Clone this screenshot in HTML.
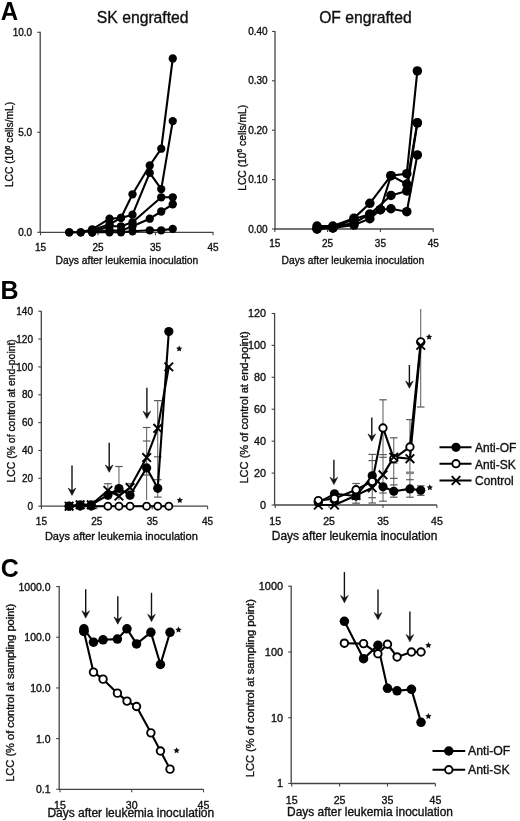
<!DOCTYPE html><html><head><meta charset="utf-8"><style>html,body{margin:0;padding:0;background:#fff;width:520px;height:821px;overflow:hidden}svg{display:block;filter:grayscale(1)}svg text{font-family:"Liberation Sans",sans-serif}</style></head><body><svg width="520" height="821" viewBox="0 0 520 821" >
<rect width="520" height="821" fill="#fff"/>
<text x="0.7" y="19.7" font-size="25.8" text-anchor="start" font-weight="bold" fill="#000"  textLength="17.4" lengthAdjust="spacingAndGlyphs">A</text>
<text x="0.5" y="299" font-size="25" text-anchor="start" font-weight="bold" fill="#000"  >B</text>
<text x="0.8" y="576.6" font-size="25" text-anchor="start" font-weight="bold" fill="#000"  >C</text>
<line x1="40.2" y1="31.8" x2="40.2" y2="232.8" stroke="#444" stroke-width="1.3"/>
<line x1="37.2" y1="32.3" x2="40.2" y2="32.3" stroke="#444" stroke-width="1.1"/>
<text x="32.2" y="35.5" font-size="10" text-anchor="end" font-weight="normal" fill="#111" stroke="#111" stroke-width="0.35" >10.0</text>
<line x1="37.2" y1="132.3" x2="40.2" y2="132.3" stroke="#444" stroke-width="1.1"/>
<text x="32.2" y="135.5" font-size="10" text-anchor="end" font-weight="normal" fill="#111" stroke="#111" stroke-width="0.35" >5.0</text>
<line x1="37.2" y1="232.3" x2="40.2" y2="232.3" stroke="#444" stroke-width="1.1"/>
<text x="32.2" y="235.5" font-size="10" text-anchor="end" font-weight="normal" fill="#111" stroke="#111" stroke-width="0.35" >0.0</text>
<line x1="40.2" y1="232.3" x2="213.5" y2="232.3" stroke="#444" stroke-width="1.3"/>
<line x1="40.5" y1="232.3" x2="40.5" y2="235.3" stroke="#444" stroke-width="1.1"/>
<text x="40.5" y="250.8" font-size="10" text-anchor="middle" font-weight="normal" fill="#111" stroke="#111" stroke-width="0.35" >15</text>
<line x1="98" y1="232.3" x2="98" y2="235.3" stroke="#444" stroke-width="1.1"/>
<text x="98" y="250.8" font-size="10" text-anchor="middle" font-weight="normal" fill="#111" stroke="#111" stroke-width="0.35" >25</text>
<line x1="155.5" y1="232.3" x2="155.5" y2="235.3" stroke="#444" stroke-width="1.1"/>
<text x="155.5" y="250.8" font-size="10" text-anchor="middle" font-weight="normal" fill="#111" stroke="#111" stroke-width="0.35" >35</text>
<line x1="213" y1="232.3" x2="213" y2="235.3" stroke="#444" stroke-width="1.1"/>
<text x="213" y="250.8" font-size="10" text-anchor="middle" font-weight="normal" fill="#111" stroke="#111" stroke-width="0.35" >45</text>
<text x="142.7" y="22.6" font-size="15.74" text-anchor="middle" font-weight="normal" fill="#111" stroke="#111" stroke-width="0.35" >SK engrafted</text>
<text x="126.95" y="264.2" font-size="10.28" text-anchor="middle" font-weight="normal" fill="#111" stroke="#111" stroke-width="0.35" >Days after leukemia inoculation</text>
<text transform="translate(13,144.5) rotate(-90)" x="0" y="0" font-size="10.2" text-anchor="middle" fill="#111" stroke="#111" stroke-width="0.35">LCC (10<tspan dy="-3.5" font-size="6.5">6</tspan><tspan dy="3.5"> cells/mL)</tspan></text>
<polyline points="69.25,232.3 80.75,232.3 92.25,229.3 109.5,218.7 121,217.9 132.5,194.3 149.75,165.5 161.25,148.7 172.75,58.5" fill="none" stroke="#000" stroke-width="2.1" stroke-linejoin="round"/>
<polyline points="69.25,232.3 80.75,232.3 92.25,230.3 109.5,224.3 121,217.9 132.5,214.7 149.75,172.9 161.25,189.1 172.75,121.1" fill="none" stroke="#000" stroke-width="2.1" stroke-linejoin="round"/>
<polyline points="92.25,232.3 109.5,226.3 121,226.3 132.5,222.3 161.25,197.3 172.75,197.3" fill="none" stroke="#000" stroke-width="2.1" stroke-linejoin="round"/>
<polyline points="92.25,232.3 109.5,230.3 121,230.7 132.5,226.3 149.75,218.7 161.25,211.5 172.75,204.3" fill="none" stroke="#000" stroke-width="2.1" stroke-linejoin="round"/>
<polyline points="92.25,232.3 109.5,232.3 121,232.3 132.5,231.3 149.75,230.3 161.25,230.3 172.75,228.9" fill="none" stroke="#000" stroke-width="2.1" stroke-linejoin="round"/>
<circle cx="69.25" cy="232.3" r="4.15" fill="#000"/>
<circle cx="80.75" cy="232.3" r="4.15" fill="#000"/>
<circle cx="92.25" cy="229.3" r="4.15" fill="#000"/>
<circle cx="109.5" cy="218.7" r="4.15" fill="#000"/>
<circle cx="121" cy="217.9" r="4.15" fill="#000"/>
<circle cx="132.5" cy="194.3" r="4.15" fill="#000"/>
<circle cx="149.75" cy="165.5" r="4.15" fill="#000"/>
<circle cx="161.25" cy="148.7" r="4.15" fill="#000"/>
<circle cx="172.75" cy="58.5" r="4.15" fill="#000"/>
<circle cx="69.25" cy="232.3" r="4.15" fill="#000"/>
<circle cx="80.75" cy="232.3" r="4.15" fill="#000"/>
<circle cx="92.25" cy="230.3" r="4.15" fill="#000"/>
<circle cx="109.5" cy="224.3" r="4.15" fill="#000"/>
<circle cx="121" cy="217.9" r="4.15" fill="#000"/>
<circle cx="132.5" cy="214.7" r="4.15" fill="#000"/>
<circle cx="149.75" cy="172.9" r="4.15" fill="#000"/>
<circle cx="161.25" cy="189.1" r="4.15" fill="#000"/>
<circle cx="172.75" cy="121.1" r="4.15" fill="#000"/>
<circle cx="92.25" cy="232.3" r="4.15" fill="#000"/>
<circle cx="109.5" cy="226.3" r="4.15" fill="#000"/>
<circle cx="121" cy="226.3" r="4.15" fill="#000"/>
<circle cx="132.5" cy="222.3" r="4.15" fill="#000"/>
<circle cx="161.25" cy="197.3" r="4.15" fill="#000"/>
<circle cx="172.75" cy="197.3" r="4.15" fill="#000"/>
<circle cx="92.25" cy="232.3" r="4.15" fill="#000"/>
<circle cx="109.5" cy="230.3" r="4.15" fill="#000"/>
<circle cx="121" cy="230.7" r="4.15" fill="#000"/>
<circle cx="132.5" cy="226.3" r="4.15" fill="#000"/>
<circle cx="149.75" cy="218.7" r="4.15" fill="#000"/>
<circle cx="161.25" cy="211.5" r="4.15" fill="#000"/>
<circle cx="172.75" cy="204.3" r="4.15" fill="#000"/>
<circle cx="92.25" cy="232.3" r="4.15" fill="#000"/>
<circle cx="109.5" cy="232.3" r="4.15" fill="#000"/>
<circle cx="121" cy="232.3" r="4.15" fill="#000"/>
<circle cx="132.5" cy="231.3" r="4.15" fill="#000"/>
<circle cx="149.75" cy="230.3" r="4.15" fill="#000"/>
<circle cx="161.25" cy="230.3" r="4.15" fill="#000"/>
<circle cx="172.75" cy="228.9" r="4.15" fill="#000"/>
<line x1="275" y1="31" x2="275" y2="229.5" stroke="#444" stroke-width="1.3"/>
<line x1="272" y1="31.4" x2="275" y2="31.4" stroke="#444" stroke-width="1.1"/>
<text x="267.7" y="35" font-size="10" text-anchor="end" font-weight="normal" fill="#111" stroke="#111" stroke-width="0.35" >0.40</text>
<line x1="272" y1="80.8" x2="275" y2="80.8" stroke="#444" stroke-width="1.1"/>
<text x="267.7" y="84.4" font-size="10" text-anchor="end" font-weight="normal" fill="#111" stroke="#111" stroke-width="0.35" >0.30</text>
<line x1="272" y1="130.2" x2="275" y2="130.2" stroke="#444" stroke-width="1.1"/>
<text x="267.7" y="133.8" font-size="10" text-anchor="end" font-weight="normal" fill="#111" stroke="#111" stroke-width="0.35" >0.20</text>
<line x1="272" y1="179.6" x2="275" y2="179.6" stroke="#444" stroke-width="1.1"/>
<text x="267.7" y="183.2" font-size="10" text-anchor="end" font-weight="normal" fill="#111" stroke="#111" stroke-width="0.35" >0.10</text>
<line x1="272" y1="229" x2="275" y2="229" stroke="#444" stroke-width="1.1"/>
<text x="267.7" y="232.6" font-size="10" text-anchor="end" font-weight="normal" fill="#111" stroke="#111" stroke-width="0.35" >0.00</text>
<line x1="275" y1="229" x2="433.6" y2="229" stroke="#444" stroke-width="1.3"/>
<line x1="274.8" y1="229" x2="274.8" y2="232" stroke="#444" stroke-width="1.1"/>
<text x="274.8" y="247" font-size="10" text-anchor="middle" font-weight="normal" fill="#111" stroke="#111" stroke-width="0.35" >15</text>
<line x1="327.6" y1="229" x2="327.6" y2="232" stroke="#444" stroke-width="1.1"/>
<text x="327.6" y="247" font-size="10" text-anchor="middle" font-weight="normal" fill="#111" stroke="#111" stroke-width="0.35" >25</text>
<line x1="380.4" y1="229" x2="380.4" y2="232" stroke="#444" stroke-width="1.1"/>
<text x="380.4" y="247" font-size="10" text-anchor="middle" font-weight="normal" fill="#111" stroke="#111" stroke-width="0.35" >35</text>
<line x1="433.2" y1="229" x2="433.2" y2="232" stroke="#444" stroke-width="1.1"/>
<text x="433.2" y="247" font-size="10" text-anchor="middle" font-weight="normal" fill="#111" stroke="#111" stroke-width="0.35" >45</text>
<text x="365.4" y="22.5" font-size="15.7" text-anchor="middle" font-weight="normal" fill="#111" stroke="#111" stroke-width="0.35" >OF engrafted</text>
<text x="352.9" y="264" font-size="10.27" text-anchor="middle" font-weight="normal" fill="#111" stroke="#111" stroke-width="0.35" >Days after leukemia inoculation</text>
<text transform="translate(245.6,147.8) rotate(-90)" x="0" y="0" font-size="10.3" text-anchor="middle" fill="#111" stroke="#111" stroke-width="0.35">LCC (10<tspan dy="-3.5" font-size="6.5">6</tspan><tspan dy="3.5"> cells/mL)</tspan></text>
<polyline points="317.04,226.04 332.88,226.04 354,218.13 369.84,203.31 390.96,175.65 406.8,173.67 417.36,70.92" fill="none" stroke="#000" stroke-width="2.1" stroke-linejoin="round"/>
<polyline points="317.04,229 332.88,227.02 354,223.07 369.84,214.18 380.4,209.73 390.96,175.65 406.8,184.05 417.36,122.79" fill="none" stroke="#000" stroke-width="2.1" stroke-linejoin="round"/>
<polyline points="317.04,228.01 332.88,228.01 354,219.12 369.84,214.18 390.96,195.41 406.8,190.96 417.36,122.79" fill="none" stroke="#000" stroke-width="2.1" stroke-linejoin="round"/>
<polyline points="317.04,229 332.88,228.01 354,225.05 369.84,218.63 380.4,209.73 390.96,208.75 406.8,211.71 417.36,154.9" fill="none" stroke="#000" stroke-width="2.1" stroke-linejoin="round"/>
<circle cx="317.04" cy="226.04" r="4.75" fill="#000"/>
<circle cx="332.88" cy="226.04" r="4.75" fill="#000"/>
<circle cx="354" cy="218.13" r="4.75" fill="#000"/>
<circle cx="369.84" cy="203.31" r="4.75" fill="#000"/>
<circle cx="390.96" cy="175.65" r="4.75" fill="#000"/>
<circle cx="406.8" cy="173.67" r="4.75" fill="#000"/>
<circle cx="417.36" cy="70.92" r="4.75" fill="#000"/>
<circle cx="317.04" cy="229" r="4.75" fill="#000"/>
<circle cx="332.88" cy="227.02" r="4.75" fill="#000"/>
<circle cx="354" cy="223.07" r="4.75" fill="#000"/>
<circle cx="369.84" cy="214.18" r="4.75" fill="#000"/>
<circle cx="380.4" cy="209.73" r="4.75" fill="#000"/>
<circle cx="390.96" cy="175.65" r="4.75" fill="#000"/>
<circle cx="406.8" cy="184.05" r="4.75" fill="#000"/>
<circle cx="417.36" cy="122.79" r="4.75" fill="#000"/>
<circle cx="317.04" cy="228.01" r="4.75" fill="#000"/>
<circle cx="332.88" cy="228.01" r="4.75" fill="#000"/>
<circle cx="354" cy="219.12" r="4.75" fill="#000"/>
<circle cx="369.84" cy="214.18" r="4.75" fill="#000"/>
<circle cx="390.96" cy="195.41" r="4.75" fill="#000"/>
<circle cx="406.8" cy="190.96" r="4.75" fill="#000"/>
<circle cx="417.36" cy="122.79" r="4.75" fill="#000"/>
<circle cx="317.04" cy="229" r="4.75" fill="#000"/>
<circle cx="332.88" cy="228.01" r="4.75" fill="#000"/>
<circle cx="354" cy="225.05" r="4.75" fill="#000"/>
<circle cx="369.84" cy="218.63" r="4.75" fill="#000"/>
<circle cx="380.4" cy="209.73" r="4.75" fill="#000"/>
<circle cx="390.96" cy="208.75" r="4.75" fill="#000"/>
<circle cx="406.8" cy="211.71" r="4.75" fill="#000"/>
<circle cx="417.36" cy="154.9" r="4.75" fill="#000"/>
<line x1="41.3" y1="310.9" x2="41.3" y2="506.7" stroke="#444" stroke-width="1.3"/>
<line x1="38.3" y1="311.18" x2="41.3" y2="311.18" stroke="#444" stroke-width="1.1"/>
<text x="33" y="314.78" font-size="10" text-anchor="end" font-weight="normal" fill="#111" stroke="#111" stroke-width="0.35" >140</text>
<line x1="38.3" y1="339.04" x2="41.3" y2="339.04" stroke="#444" stroke-width="1.1"/>
<text x="33" y="342.64" font-size="10" text-anchor="end" font-weight="normal" fill="#111" stroke="#111" stroke-width="0.35" >120</text>
<line x1="38.3" y1="366.9" x2="41.3" y2="366.9" stroke="#444" stroke-width="1.1"/>
<text x="33" y="370.5" font-size="10" text-anchor="end" font-weight="normal" fill="#111" stroke="#111" stroke-width="0.35" >100</text>
<line x1="38.3" y1="394.76" x2="41.3" y2="394.76" stroke="#444" stroke-width="1.1"/>
<text x="33" y="398.36" font-size="10" text-anchor="end" font-weight="normal" fill="#111" stroke="#111" stroke-width="0.35" >80</text>
<line x1="38.3" y1="422.62" x2="41.3" y2="422.62" stroke="#444" stroke-width="1.1"/>
<text x="33" y="426.22" font-size="10" text-anchor="end" font-weight="normal" fill="#111" stroke="#111" stroke-width="0.35" >60</text>
<line x1="38.3" y1="450.48" x2="41.3" y2="450.48" stroke="#444" stroke-width="1.1"/>
<text x="33" y="454.08" font-size="10" text-anchor="end" font-weight="normal" fill="#111" stroke="#111" stroke-width="0.35" >40</text>
<line x1="38.3" y1="478.34" x2="41.3" y2="478.34" stroke="#444" stroke-width="1.1"/>
<text x="33" y="481.94" font-size="10" text-anchor="end" font-weight="normal" fill="#111" stroke="#111" stroke-width="0.35" >20</text>
<line x1="38.3" y1="506.2" x2="41.3" y2="506.2" stroke="#444" stroke-width="1.1"/>
<text x="33" y="509.8" font-size="10" text-anchor="end" font-weight="normal" fill="#111" stroke="#111" stroke-width="0.35" >0</text>
<line x1="41.3" y1="506.2" x2="207.7" y2="506.2" stroke="#444" stroke-width="1.3"/>
<line x1="41.4" y1="506.2" x2="41.4" y2="509.2" stroke="#444" stroke-width="1.1"/>
<text x="41.4" y="524.8" font-size="10" text-anchor="middle" font-weight="normal" fill="#111" stroke="#111" stroke-width="0.35" >15</text>
<line x1="96.8" y1="506.2" x2="96.8" y2="509.2" stroke="#444" stroke-width="1.1"/>
<text x="96.8" y="524.8" font-size="10" text-anchor="middle" font-weight="normal" fill="#111" stroke="#111" stroke-width="0.35" >25</text>
<line x1="152.2" y1="506.2" x2="152.2" y2="509.2" stroke="#444" stroke-width="1.1"/>
<text x="152.2" y="524.8" font-size="10" text-anchor="middle" font-weight="normal" fill="#111" stroke="#111" stroke-width="0.35" >35</text>
<line x1="207.6" y1="506.2" x2="207.6" y2="509.2" stroke="#444" stroke-width="1.1"/>
<text x="207.6" y="524.8" font-size="10" text-anchor="middle" font-weight="normal" fill="#111" stroke="#111" stroke-width="0.35" >45</text>
<text x="121.35" y="539.8" font-size="11.0" text-anchor="middle" font-weight="normal" fill="#111" stroke="#111" stroke-width="0.35" >Days after leukemia inoculation</text>
<text transform="translate(14.7,410.8) rotate(-90)" x="0" y="0" font-size="10.4" text-anchor="middle" fill="#111" stroke="#111" stroke-width="0.35">LCC (% of control at end-point)</text>
<line x1="107.88" y1="483.7" x2="107.88" y2="500" stroke="#5a5a5a" stroke-width="1"/>
<line x1="104.08" y1="483.7" x2="111.68" y2="483.7" stroke="#5a5a5a" stroke-width="1.2"/>
<line x1="118.96" y1="466.5" x2="118.96" y2="500" stroke="#5a5a5a" stroke-width="1"/>
<line x1="115.16" y1="466.5" x2="122.76" y2="466.5" stroke="#5a5a5a" stroke-width="1.2"/>
<line x1="130.04" y1="483.7" x2="130.04" y2="500" stroke="#5a5a5a" stroke-width="1"/>
<line x1="126.24" y1="483.7" x2="133.84" y2="483.7" stroke="#5a5a5a" stroke-width="1.2"/>
<line x1="146.66" y1="427.5" x2="146.66" y2="500" stroke="#5a5a5a" stroke-width="1"/>
<line x1="142.86" y1="427.5" x2="150.46" y2="427.5" stroke="#5a5a5a" stroke-width="1.2"/>
<line x1="142.86" y1="441" x2="150.46" y2="441" stroke="#5a5a5a" stroke-width="1.2"/>
<line x1="142.86" y1="475" x2="150.46" y2="475" stroke="#5a5a5a" stroke-width="1.2"/>
<line x1="157.74" y1="400.6" x2="157.74" y2="497.1" stroke="#5a5a5a" stroke-width="1"/>
<line x1="153.94" y1="400.6" x2="161.54" y2="400.6" stroke="#5a5a5a" stroke-width="1.2"/>
<line x1="153.94" y1="456.8" x2="161.54" y2="456.8" stroke="#5a5a5a" stroke-width="1.2"/>
<line x1="153.94" y1="479.7" x2="161.54" y2="479.7" stroke="#5a5a5a" stroke-width="1.2"/>
<line x1="153.94" y1="497.1" x2="161.54" y2="497.1" stroke="#5a5a5a" stroke-width="1.2"/>
<line x1="72" y1="465.4" x2="72" y2="491.4" stroke="#111" stroke-width="1.4"/>
<path d="M68.2,488.1L72,490.8L75.8,488.1L72,495.4Z" fill="#111" stroke="#111" stroke-width="0.6" stroke-linejoin="miter"/>
<line x1="109.2" y1="442.8" x2="109.2" y2="468.3" stroke="#111" stroke-width="1.4"/>
<path d="M105.4,465L109.2,467.7L113,465L109.2,472.3Z" fill="#111" stroke="#111" stroke-width="0.6" stroke-linejoin="miter"/>
<line x1="146.9" y1="387.7" x2="146.9" y2="414.5" stroke="#111" stroke-width="1.4"/>
<path d="M143.1,411.2L146.9,413.9L150.7,411.2L146.9,418.5Z" fill="#111" stroke="#111" stroke-width="0.6" stroke-linejoin="miter"/>
<polyline points="69.1,506.2 80.18,506.2 91.26,506.2 107.88,506.2 118.96,506.2 130.04,506.2 146.66,506.2 157.74,506.2 168.82,506.2" fill="none" stroke="#000" stroke-width="2.1" stroke-linejoin="round"/>
<polyline points="69.1,506.2 80.18,504.81 91.26,504.81 107.88,490.46 118.96,496.03 130.04,487.53 146.66,457.58 157.74,428.33 168.82,366.9" fill="none" stroke="#000" stroke-width="2.1" stroke-linejoin="round"/>
<polyline points="69.1,506.2 80.18,504.81 91.26,504.81 107.88,495.2 118.96,488.51 130.04,495.2 146.66,467.89 157.74,488.37 168.82,331.52" fill="none" stroke="#000" stroke-width="2.1" stroke-linejoin="round"/>
<circle cx="69.1" cy="506.2" r="3.55" fill="#fff" stroke="#000" stroke-width="1.8"/>
<circle cx="80.18" cy="506.2" r="3.55" fill="#fff" stroke="#000" stroke-width="1.8"/>
<circle cx="91.26" cy="506.2" r="3.55" fill="#fff" stroke="#000" stroke-width="1.8"/>
<circle cx="107.88" cy="506.2" r="3.55" fill="#fff" stroke="#000" stroke-width="1.8"/>
<circle cx="118.96" cy="506.2" r="3.55" fill="#fff" stroke="#000" stroke-width="1.8"/>
<circle cx="130.04" cy="506.2" r="3.55" fill="#fff" stroke="#000" stroke-width="1.8"/>
<circle cx="146.66" cy="506.2" r="3.55" fill="#fff" stroke="#000" stroke-width="1.8"/>
<circle cx="157.74" cy="506.2" r="3.55" fill="#fff" stroke="#000" stroke-width="1.8"/>
<circle cx="168.82" cy="506.2" r="3.55" fill="#fff" stroke="#000" stroke-width="1.8"/>
<path d="M64.8,501.9L73.4,510.5M73.4,501.9L64.8,510.5" stroke="#000" stroke-width="1.9" fill="none"/>
<path d="M75.88,500.51L84.48,509.11M84.48,500.51L75.88,509.11" stroke="#000" stroke-width="1.9" fill="none"/>
<path d="M86.96,500.51L95.56,509.11M95.56,500.51L86.96,509.11" stroke="#000" stroke-width="1.9" fill="none"/>
<path d="M103.58,486.16L112.18,494.76M112.18,486.16L103.58,494.76" stroke="#000" stroke-width="1.9" fill="none"/>
<path d="M114.66,491.73L123.26,500.33M123.26,491.73L114.66,500.33" stroke="#000" stroke-width="1.9" fill="none"/>
<path d="M125.74,483.23L134.34,491.83M134.34,483.23L125.74,491.83" stroke="#000" stroke-width="1.9" fill="none"/>
<path d="M142.36,453.28L150.96,461.88M150.96,453.28L142.36,461.88" stroke="#000" stroke-width="1.9" fill="none"/>
<path d="M153.44,424.03L162.04,432.63M162.04,424.03L153.44,432.63" stroke="#000" stroke-width="1.9" fill="none"/>
<path d="M164.52,362.6L173.12,371.2M173.12,362.6L164.52,371.2" stroke="#000" stroke-width="1.9" fill="none"/>
<circle cx="69.1" cy="506.2" r="4.6" fill="#000"/>
<circle cx="80.18" cy="504.81" r="4.6" fill="#000"/>
<circle cx="91.26" cy="504.81" r="4.6" fill="#000"/>
<circle cx="107.88" cy="495.2" r="4.6" fill="#000"/>
<circle cx="118.96" cy="488.51" r="4.6" fill="#000"/>
<circle cx="130.04" cy="495.2" r="4.6" fill="#000"/>
<circle cx="146.66" cy="467.89" r="4.6" fill="#000"/>
<circle cx="157.74" cy="488.37" r="4.6" fill="#000"/>
<circle cx="168.82" cy="331.52" r="4.6" fill="#000"/>
<polygon points="179.2,345.5 180.17,347.47 182.34,347.78 180.77,349.31 181.14,351.47 179.2,350.45 177.26,351.47 177.63,349.31 176.06,347.78 178.23,347.47" fill="#111"/>
<polygon points="179.8,497 180.77,498.97 182.94,499.28 181.37,500.81 181.74,502.97 179.8,501.95 177.86,502.97 178.23,500.81 176.66,499.28 178.83,498.97" fill="#111"/>
<line x1="274.6" y1="313" x2="274.6" y2="505.5" stroke="#444" stroke-width="1.3"/>
<line x1="271.6" y1="313.48" x2="274.6" y2="313.48" stroke="#444" stroke-width="1.1"/>
<text x="265.9" y="317.18" font-size="10.8" text-anchor="end" font-weight="normal" fill="#111" stroke="#111" stroke-width="0.35" >120</text>
<line x1="271.6" y1="345.4" x2="274.6" y2="345.4" stroke="#444" stroke-width="1.1"/>
<text x="265.9" y="349.1" font-size="10.8" text-anchor="end" font-weight="normal" fill="#111" stroke="#111" stroke-width="0.35" >100</text>
<line x1="271.6" y1="377.32" x2="274.6" y2="377.32" stroke="#444" stroke-width="1.1"/>
<text x="265.9" y="381.02" font-size="10.8" text-anchor="end" font-weight="normal" fill="#111" stroke="#111" stroke-width="0.35" >80</text>
<line x1="271.6" y1="409.24" x2="274.6" y2="409.24" stroke="#444" stroke-width="1.1"/>
<text x="265.9" y="412.94" font-size="10.8" text-anchor="end" font-weight="normal" fill="#111" stroke="#111" stroke-width="0.35" >60</text>
<line x1="271.6" y1="441.16" x2="274.6" y2="441.16" stroke="#444" stroke-width="1.1"/>
<text x="265.9" y="444.86" font-size="10.8" text-anchor="end" font-weight="normal" fill="#111" stroke="#111" stroke-width="0.35" >40</text>
<line x1="271.6" y1="473.08" x2="274.6" y2="473.08" stroke="#444" stroke-width="1.1"/>
<text x="265.9" y="476.78" font-size="10.8" text-anchor="end" font-weight="normal" fill="#111" stroke="#111" stroke-width="0.35" >20</text>
<line x1="271.6" y1="505" x2="274.6" y2="505" stroke="#444" stroke-width="1.1"/>
<text x="265.9" y="508.7" font-size="10.8" text-anchor="end" font-weight="normal" fill="#111" stroke="#111" stroke-width="0.35" >0</text>
<line x1="274.6" y1="505" x2="436.9" y2="505" stroke="#444" stroke-width="1.3"/>
<line x1="275.2" y1="505" x2="275.2" y2="508" stroke="#444" stroke-width="1.1"/>
<text x="275.2" y="524.6" font-size="10.5" text-anchor="middle" font-weight="normal" fill="#111" stroke="#111" stroke-width="0.35" >15</text>
<line x1="329.1" y1="505" x2="329.1" y2="508" stroke="#444" stroke-width="1.1"/>
<text x="329.1" y="524.6" font-size="10.5" text-anchor="middle" font-weight="normal" fill="#111" stroke="#111" stroke-width="0.35" >25</text>
<line x1="383" y1="505" x2="383" y2="508" stroke="#444" stroke-width="1.1"/>
<text x="383" y="524.6" font-size="10.5" text-anchor="middle" font-weight="normal" fill="#111" stroke="#111" stroke-width="0.35" >35</text>
<line x1="436.9" y1="505" x2="436.9" y2="508" stroke="#444" stroke-width="1.1"/>
<text x="436.9" y="524.6" font-size="10.5" text-anchor="middle" font-weight="normal" fill="#111" stroke="#111" stroke-width="0.35" >45</text>
<text x="354.6" y="539.7" font-size="11.92" text-anchor="middle" font-weight="normal" fill="#111" stroke="#111" stroke-width="0.35" >Days after leukemia inoculation</text>
<text transform="translate(247.8,407.4) rotate(-90)" x="0" y="0" font-size="11.05" text-anchor="middle" fill="#111" stroke="#111" stroke-width="0.35">LCC (% of control at end-point)</text>
<line x1="356.05" y1="483.5" x2="356.05" y2="503.2" stroke="#5a5a5a" stroke-width="1"/>
<line x1="352.25" y1="483.5" x2="359.85" y2="483.5" stroke="#5a5a5a" stroke-width="1.2"/>
<line x1="352.25" y1="503.2" x2="359.85" y2="503.2" stroke="#5a5a5a" stroke-width="1.2"/>
<line x1="372.22" y1="454.4" x2="372.22" y2="503" stroke="#5a5a5a" stroke-width="1"/>
<line x1="368.42" y1="454.4" x2="376.02" y2="454.4" stroke="#5a5a5a" stroke-width="1.2"/>
<line x1="368.42" y1="460.6" x2="376.02" y2="460.6" stroke="#5a5a5a" stroke-width="1.2"/>
<line x1="368.42" y1="497.7" x2="376.02" y2="497.7" stroke="#5a5a5a" stroke-width="1.2"/>
<line x1="368.42" y1="503" x2="376.02" y2="503" stroke="#5a5a5a" stroke-width="1.2"/>
<line x1="383" y1="399.8" x2="383" y2="501.2" stroke="#5a5a5a" stroke-width="1"/>
<line x1="379.2" y1="399.8" x2="386.8" y2="399.8" stroke="#5a5a5a" stroke-width="1.2"/>
<line x1="379.2" y1="454.6" x2="386.8" y2="454.6" stroke="#5a5a5a" stroke-width="1.2"/>
<line x1="379.2" y1="457.3" x2="386.8" y2="457.3" stroke="#5a5a5a" stroke-width="1.2"/>
<line x1="379.2" y1="493" x2="386.8" y2="493" stroke="#5a5a5a" stroke-width="1.2"/>
<line x1="379.2" y1="501.2" x2="386.8" y2="501.2" stroke="#5a5a5a" stroke-width="1.2"/>
<line x1="393.78" y1="437.8" x2="393.78" y2="497.2" stroke="#5a5a5a" stroke-width="1"/>
<line x1="389.98" y1="437.8" x2="397.58" y2="437.8" stroke="#5a5a5a" stroke-width="1.2"/>
<line x1="389.98" y1="463" x2="397.58" y2="463" stroke="#5a5a5a" stroke-width="1.2"/>
<line x1="389.98" y1="478.4" x2="397.58" y2="478.4" stroke="#5a5a5a" stroke-width="1.2"/>
<line x1="389.98" y1="484.9" x2="397.58" y2="484.9" stroke="#5a5a5a" stroke-width="1.2"/>
<line x1="389.98" y1="497.2" x2="397.58" y2="497.2" stroke="#5a5a5a" stroke-width="1.2"/>
<line x1="409.95" y1="419.6" x2="409.95" y2="497.2" stroke="#5a5a5a" stroke-width="1"/>
<line x1="406.15" y1="419.6" x2="413.75" y2="419.6" stroke="#5a5a5a" stroke-width="1.2"/>
<line x1="406.15" y1="472.8" x2="413.75" y2="472.8" stroke="#5a5a5a" stroke-width="1.2"/>
<line x1="406.15" y1="479.7" x2="413.75" y2="479.7" stroke="#5a5a5a" stroke-width="1.2"/>
<line x1="406.15" y1="497.2" x2="413.75" y2="497.2" stroke="#5a5a5a" stroke-width="1.2"/>
<line x1="405.95" y1="472.8" x2="413.95" y2="472.8" stroke="#888" stroke-width="2.6"/>
<line x1="420.73" y1="309" x2="420.73" y2="407" stroke="#5a5a5a" stroke-width="1"/>
<line x1="416.93" y1="407" x2="424.53" y2="407" stroke="#5a5a5a" stroke-width="1.2"/>
<line x1="420.73" y1="485.8" x2="420.73" y2="495.3" stroke="#5a5a5a" stroke-width="1"/>
<line x1="416.93" y1="485.8" x2="424.53" y2="485.8" stroke="#5a5a5a" stroke-width="1.2"/>
<line x1="416.93" y1="495.3" x2="424.53" y2="495.3" stroke="#5a5a5a" stroke-width="1.2"/>
<line x1="333.9" y1="459.8" x2="333.9" y2="480.6" stroke="#111" stroke-width="1.4"/>
<path d="M330.1,477.3L333.9,480L337.7,477.3L333.9,484.6Z" fill="#111" stroke="#111" stroke-width="0.6" stroke-linejoin="miter"/>
<line x1="371.8" y1="417.5" x2="371.8" y2="437.2" stroke="#111" stroke-width="1.4"/>
<path d="M368,433.9L371.8,436.6L375.6,433.9L371.8,441.2Z" fill="#111" stroke="#111" stroke-width="0.6" stroke-linejoin="miter"/>
<line x1="409.4" y1="365" x2="409.4" y2="384.3" stroke="#111" stroke-width="1.4"/>
<path d="M405.6,381L409.4,383.7L413.2,381L409.4,388.3Z" fill="#111" stroke="#111" stroke-width="0.6" stroke-linejoin="miter"/>
<polyline points="318.32,502.61 334.49,493.83 356.05,496.06 372.22,475.79 383,486.81 393.78,491.27 409.95,488.88 420.73,490.32" fill="none" stroke="#000" stroke-width="2.1" stroke-linejoin="round"/>
<polyline points="318.32,505 334.49,505 356.05,495.42 372.22,487.76 383,474.84 393.78,457.12 409.95,458.72 420.73,345.4" fill="none" stroke="#000" stroke-width="2.1" stroke-linejoin="round"/>
<polyline points="318.32,500.53 334.49,498.62 356.05,489.68 372.22,481.54 383,427.91 393.78,458.72 409.95,446.91 420.73,341.89" fill="none" stroke="#000" stroke-width="2.1" stroke-linejoin="round"/>
<circle cx="318.32" cy="502.61" r="4.6" fill="#000"/>
<circle cx="334.49" cy="493.83" r="4.6" fill="#000"/>
<circle cx="356.05" cy="496.06" r="4.6" fill="#000"/>
<circle cx="372.22" cy="475.79" r="4.6" fill="#000"/>
<circle cx="383" cy="486.81" r="4.6" fill="#000"/>
<circle cx="393.78" cy="491.27" r="4.6" fill="#000"/>
<circle cx="409.95" cy="488.88" r="4.6" fill="#000"/>
<circle cx="420.73" cy="490.32" r="4.6" fill="#000"/>
<circle cx="318.32" cy="500.53" r="3.7" fill="#fff" stroke="#000" stroke-width="1.85"/>
<circle cx="334.49" cy="498.62" r="3.7" fill="#fff" stroke="#000" stroke-width="1.85"/>
<circle cx="356.05" cy="489.68" r="3.7" fill="#fff" stroke="#000" stroke-width="1.85"/>
<circle cx="372.22" cy="481.54" r="3.7" fill="#fff" stroke="#000" stroke-width="1.85"/>
<circle cx="383" cy="427.91" r="3.7" fill="#fff" stroke="#000" stroke-width="1.85"/>
<circle cx="393.78" cy="458.72" r="3.7" fill="#fff" stroke="#000" stroke-width="1.85"/>
<circle cx="409.95" cy="446.91" r="3.7" fill="#fff" stroke="#000" stroke-width="1.85"/>
<circle cx="420.73" cy="341.89" r="3.7" fill="#fff" stroke="#000" stroke-width="1.85"/>
<path d="M314.02,500.7L322.62,509.3M322.62,500.7L314.02,509.3" stroke="#000" stroke-width="1.9" fill="none"/>
<path d="M330.19,500.7L338.79,509.3M338.79,500.7L330.19,509.3" stroke="#000" stroke-width="1.9" fill="none"/>
<path d="M351.75,491.12L360.35,499.72M360.35,491.12L351.75,499.72" stroke="#000" stroke-width="1.9" fill="none"/>
<path d="M367.92,483.46L376.52,492.06M376.52,483.46L367.92,492.06" stroke="#000" stroke-width="1.9" fill="none"/>
<path d="M378.7,470.54L387.3,479.14M387.3,470.54L378.7,479.14" stroke="#000" stroke-width="1.9" fill="none"/>
<path d="M389.48,452.82L398.08,461.42M398.08,452.82L389.48,461.42" stroke="#000" stroke-width="1.9" fill="none"/>
<path d="M405.65,454.42L414.25,463.02M414.25,454.42L405.65,463.02" stroke="#000" stroke-width="1.9" fill="none"/>
<path d="M416.43,341.1L425.03,349.7M425.03,341.1L416.43,349.7" stroke="#000" stroke-width="1.9" fill="none"/>
<polygon points="429.8,484.2 430.77,486.17 432.94,486.48 431.37,488.01 431.74,490.17 429.8,489.15 427.86,490.17 428.23,488.01 426.66,486.48 428.83,486.17" fill="#111"/>
<polygon points="429.1,333.8 430.07,335.77 432.24,336.08 430.67,337.61 431.04,339.77 429.1,338.75 427.16,339.77 427.53,337.61 425.96,336.08 428.13,335.77" fill="#111"/>
<line x1="439.5" y1="447.3" x2="471.5" y2="447.3" stroke="#000" stroke-width="2.1"/>
<circle cx="456" cy="447.3" r="4.6" fill="#000"/>
<text x="475" y="452.1" font-size="12" text-anchor="start" font-weight="normal" fill="#111" stroke="#111" stroke-width="0.35" >Anti-OF</text>
<line x1="439.5" y1="463.7" x2="471.5" y2="463.7" stroke="#000" stroke-width="2.1"/>
<circle cx="456" cy="463.7" r="3.7" fill="#fff" stroke="#000" stroke-width="1.85"/>
<text x="475" y="468.5" font-size="12" text-anchor="start" font-weight="normal" fill="#111" stroke="#111" stroke-width="0.35" >Anti-SK</text>
<line x1="439.5" y1="480.5" x2="471.5" y2="480.5" stroke="#000" stroke-width="2.1"/>
<path d="M451.7,476.2L460.3,484.8M460.3,476.2L451.7,484.8" stroke="#000" stroke-width="1.9" fill="none"/>
<text x="475" y="485.3" font-size="12" text-anchor="start" font-weight="normal" fill="#111" stroke="#111" stroke-width="0.35" >Control</text>
<line x1="59.2" y1="586.1" x2="59.2" y2="789.8" stroke="#444" stroke-width="1.3"/>
<line x1="56.2" y1="586.58" x2="59.2" y2="586.58" stroke="#444" stroke-width="1.1"/>
<text x="50.6" y="590.58" font-size="10.5" text-anchor="end" font-weight="normal" fill="#111" stroke="#111" stroke-width="0.35" >1000.0</text>
<line x1="56.2" y1="637.26" x2="59.2" y2="637.26" stroke="#444" stroke-width="1.1"/>
<text x="50.6" y="641.26" font-size="10.5" text-anchor="end" font-weight="normal" fill="#111" stroke="#111" stroke-width="0.35" >100.0</text>
<line x1="56.2" y1="687.94" x2="59.2" y2="687.94" stroke="#444" stroke-width="1.1"/>
<text x="50.6" y="691.94" font-size="10.5" text-anchor="end" font-weight="normal" fill="#111" stroke="#111" stroke-width="0.35" >10.0</text>
<line x1="56.2" y1="738.62" x2="59.2" y2="738.62" stroke="#444" stroke-width="1.1"/>
<text x="50.6" y="742.62" font-size="10.5" text-anchor="end" font-weight="normal" fill="#111" stroke="#111" stroke-width="0.35" >1.0</text>
<line x1="56.2" y1="789.3" x2="59.2" y2="789.3" stroke="#444" stroke-width="1.1"/>
<text x="50.6" y="793.3" font-size="10.5" text-anchor="end" font-weight="normal" fill="#111" stroke="#111" stroke-width="0.35" >0.1</text>
<line x1="59.2" y1="789.3" x2="203.5" y2="789.3" stroke="#444" stroke-width="1.3"/>
<line x1="60" y1="789.3" x2="60" y2="792.3" stroke="#444" stroke-width="1.1"/>
<text x="60" y="809.2" font-size="10.6" text-anchor="middle" font-weight="normal" fill="#111" stroke="#111" stroke-width="0.35" >15</text>
<line x1="131.75" y1="789.3" x2="131.75" y2="792.3" stroke="#444" stroke-width="1.1"/>
<text x="131.75" y="809.2" font-size="10.6" text-anchor="middle" font-weight="normal" fill="#111" stroke="#111" stroke-width="0.35" >30</text>
<line x1="203.5" y1="789.3" x2="203.5" y2="792.3" stroke="#444" stroke-width="1.1"/>
<text x="203.5" y="809.2" font-size="10.6" text-anchor="middle" font-weight="normal" fill="#111" stroke="#111" stroke-width="0.35" >45</text>
<text x="130.8" y="817.3" font-size="12.0" text-anchor="middle" font-weight="normal" fill="#111" stroke="#111" stroke-width="0.35" >Days after leukemia inoculation</text>
<text transform="translate(14.4,692.85) rotate(-90)" x="0" y="0" font-size="11.08" text-anchor="middle" fill="#111" stroke="#111" stroke-width="0.35">LCC (% of control at sampling point)</text>
<line x1="85.7" y1="589.2" x2="85.7" y2="614.1" stroke="#111" stroke-width="1.4"/>
<path d="M81.9,610.8L85.7,613.5L89.5,610.8L85.7,618.1Z" fill="#111" stroke="#111" stroke-width="0.6" stroke-linejoin="miter"/>
<line x1="117.8" y1="596.2" x2="117.8" y2="620.2" stroke="#111" stroke-width="1.4"/>
<path d="M114,616.9L117.8,619.6L121.6,616.9L117.8,624.2Z" fill="#111" stroke="#111" stroke-width="0.6" stroke-linejoin="miter"/>
<line x1="151.5" y1="592.8" x2="151.5" y2="617.6" stroke="#111" stroke-width="1.4"/>
<path d="M147.7,614.3L151.5,617L155.3,614.3L151.5,621.6Z" fill="#111" stroke="#111" stroke-width="0.6" stroke-linejoin="miter"/>
<polyline points="83.92,631.49 93.48,672.14 103.05,679.16 117.4,693.13 126.97,701.1 136.53,706.52 150.88,732.85 160.45,750.99 170.02,769.13" fill="none" stroke="#000" stroke-width="2.1" stroke-linejoin="round"/>
<polyline points="83.92,628.78 93.48,642.17 103.05,639.82 117.4,639.1 126.97,628.78 136.53,643.89 150.88,632.35 160.45,664.51 170.02,632.35" fill="none" stroke="#000" stroke-width="2.1" stroke-linejoin="round"/>
<circle cx="83.92" cy="631.49" r="3.75" fill="#fff" stroke="#000" stroke-width="1.9"/>
<circle cx="93.48" cy="672.14" r="3.75" fill="#fff" stroke="#000" stroke-width="1.9"/>
<circle cx="103.05" cy="679.16" r="3.75" fill="#fff" stroke="#000" stroke-width="1.9"/>
<circle cx="117.4" cy="693.13" r="3.75" fill="#fff" stroke="#000" stroke-width="1.9"/>
<circle cx="126.97" cy="701.1" r="3.75" fill="#fff" stroke="#000" stroke-width="1.9"/>
<circle cx="136.53" cy="706.52" r="3.75" fill="#fff" stroke="#000" stroke-width="1.9"/>
<circle cx="150.88" cy="732.85" r="3.75" fill="#fff" stroke="#000" stroke-width="1.9"/>
<circle cx="160.45" cy="750.99" r="3.75" fill="#fff" stroke="#000" stroke-width="1.9"/>
<circle cx="170.02" cy="769.13" r="3.75" fill="#fff" stroke="#000" stroke-width="1.9"/>
<circle cx="83.92" cy="628.78" r="4.75" fill="#000"/>
<circle cx="93.48" cy="642.17" r="4.75" fill="#000"/>
<circle cx="103.05" cy="639.82" r="4.75" fill="#000"/>
<circle cx="117.4" cy="639.1" r="4.75" fill="#000"/>
<circle cx="126.97" cy="628.78" r="4.75" fill="#000"/>
<circle cx="136.53" cy="643.89" r="4.75" fill="#000"/>
<circle cx="150.88" cy="632.35" r="4.75" fill="#000"/>
<circle cx="160.45" cy="664.51" r="4.75" fill="#000"/>
<circle cx="170.02" cy="632.35" r="4.75" fill="#000"/>
<circle cx="83.92" cy="631.2" r="4.75" fill="#000"/>
<polygon points="178.5,626.6 179.47,628.57 181.64,628.88 180.07,630.41 180.44,632.57 178.5,631.55 176.56,632.57 176.93,630.41 175.36,628.88 177.53,628.57" fill="#111"/>
<polygon points="176.6,747.3 177.57,749.27 179.74,749.58 178.17,751.11 178.54,753.27 176.6,752.25 174.66,753.27 175.03,751.11 173.46,749.58 175.63,749.27" fill="#111"/>
<line x1="291.2" y1="585.7" x2="291.2" y2="784" stroke="#444" stroke-width="1.3"/>
<line x1="288.2" y1="586.19" x2="291.2" y2="586.19" stroke="#444" stroke-width="1.1"/>
<text x="283" y="589.99" font-size="10.9" text-anchor="end" font-weight="normal" fill="#111" stroke="#111" stroke-width="0.35" >1000</text>
<line x1="288.2" y1="651.96" x2="291.2" y2="651.96" stroke="#444" stroke-width="1.1"/>
<text x="283" y="655.76" font-size="10.9" text-anchor="end" font-weight="normal" fill="#111" stroke="#111" stroke-width="0.35" >100</text>
<line x1="288.2" y1="717.73" x2="291.2" y2="717.73" stroke="#444" stroke-width="1.1"/>
<text x="283" y="721.53" font-size="10.9" text-anchor="end" font-weight="normal" fill="#111" stroke="#111" stroke-width="0.35" >10</text>
<line x1="288.2" y1="783.5" x2="291.2" y2="783.5" stroke="#444" stroke-width="1.1"/>
<text x="283" y="787.3" font-size="10.9" text-anchor="end" font-weight="normal" fill="#111" stroke="#111" stroke-width="0.35" >1</text>
<line x1="291.2" y1="783.5" x2="435.4" y2="783.5" stroke="#444" stroke-width="1.3"/>
<line x1="291.7" y1="783.5" x2="291.7" y2="786.5" stroke="#444" stroke-width="1.1"/>
<text x="291.7" y="803.7" font-size="10.6" text-anchor="middle" font-weight="normal" fill="#111" stroke="#111" stroke-width="0.35" >15</text>
<line x1="339.6" y1="783.5" x2="339.6" y2="786.5" stroke="#444" stroke-width="1.1"/>
<text x="339.6" y="803.7" font-size="10.6" text-anchor="middle" font-weight="normal" fill="#111" stroke="#111" stroke-width="0.35" >25</text>
<line x1="387.5" y1="783.5" x2="387.5" y2="786.5" stroke="#444" stroke-width="1.1"/>
<text x="387.5" y="803.7" font-size="10.6" text-anchor="middle" font-weight="normal" fill="#111" stroke="#111" stroke-width="0.35" >35</text>
<line x1="435.4" y1="783.5" x2="435.4" y2="786.5" stroke="#444" stroke-width="1.1"/>
<text x="435.4" y="803.7" font-size="10.6" text-anchor="middle" font-weight="normal" fill="#111" stroke="#111" stroke-width="0.35" >45</text>
<text x="370" y="816.1" font-size="11.95" text-anchor="middle" font-weight="normal" fill="#111" stroke="#111" stroke-width="0.35" >Days after leukemia inoculation</text>
<text transform="translate(254.2,688.2) rotate(-90)" x="0" y="0" font-size="11.1" text-anchor="middle" fill="#111" stroke="#111" stroke-width="0.35">LCC (% of control at sampling point)</text>
<line x1="344.4" y1="572.1" x2="344.4" y2="598.8" stroke="#111" stroke-width="1.4"/>
<path d="M340.6,595.5L344.4,598.2L348.2,595.5L344.4,602.8Z" fill="#111" stroke="#111" stroke-width="0.6" stroke-linejoin="miter"/>
<line x1="378" y1="589.5" x2="378" y2="615.8" stroke="#111" stroke-width="1.4"/>
<path d="M374.2,612.5L378,615.2L381.8,612.5L378,619.8Z" fill="#111" stroke="#111" stroke-width="0.6" stroke-linejoin="miter"/>
<line x1="409.9" y1="611.6" x2="409.9" y2="637.8" stroke="#111" stroke-width="1.4"/>
<path d="M406.1,634.5L409.9,637.2L413.7,634.5L409.9,641.8Z" fill="#111" stroke="#111" stroke-width="0.6" stroke-linejoin="miter"/>
<polyline points="344.39,621.35 363.55,658.69 377.92,645.36 387.5,688.32 397.08,690.77 411.45,689.36 421.03,722.37" fill="none" stroke="#000" stroke-width="2.1" stroke-linejoin="round"/>
<polyline points="344.39,643.18 363.55,643.6 377.92,653.73 387.5,644.25 397.08,656.94 411.45,651.96 421.03,651.96" fill="none" stroke="#000" stroke-width="2.1" stroke-linejoin="round"/>
<circle cx="344.39" cy="643.18" r="3.75" fill="#fff" stroke="#000" stroke-width="1.9"/>
<circle cx="363.55" cy="643.6" r="3.75" fill="#fff" stroke="#000" stroke-width="1.9"/>
<circle cx="377.92" cy="653.73" r="3.75" fill="#fff" stroke="#000" stroke-width="1.9"/>
<circle cx="387.5" cy="644.25" r="3.75" fill="#fff" stroke="#000" stroke-width="1.9"/>
<circle cx="397.08" cy="656.94" r="3.75" fill="#fff" stroke="#000" stroke-width="1.9"/>
<circle cx="411.45" cy="651.96" r="3.75" fill="#fff" stroke="#000" stroke-width="1.9"/>
<circle cx="421.03" cy="651.96" r="3.75" fill="#fff" stroke="#000" stroke-width="1.9"/>
<circle cx="344.39" cy="621.35" r="4.75" fill="#000"/>
<circle cx="363.55" cy="658.69" r="4.75" fill="#000"/>
<circle cx="377.92" cy="645.36" r="4.75" fill="#000"/>
<circle cx="387.5" cy="688.32" r="4.75" fill="#000"/>
<circle cx="397.08" cy="690.77" r="4.75" fill="#000"/>
<circle cx="411.45" cy="689.36" r="4.75" fill="#000"/>
<circle cx="421.03" cy="722.37" r="4.75" fill="#000"/>
<polygon points="428.4,642.1 429.37,644.07 431.54,644.38 429.97,645.91 430.34,648.07 428.4,647.05 426.46,648.07 426.83,645.91 425.26,644.38 427.43,644.07" fill="#111"/>
<polygon points="428.4,713 429.37,714.97 431.54,715.28 429.97,716.81 430.34,718.97 428.4,717.95 426.46,718.97 426.83,716.81 425.26,715.28 427.43,714.97" fill="#111"/>
<line x1="432.5" y1="751" x2="465.2" y2="751" stroke="#000" stroke-width="2.1"/>
<circle cx="448.8" cy="751" r="4.75" fill="#000"/>
<text x="468" y="755.3" font-size="12.3" text-anchor="start" font-weight="normal" fill="#111" stroke="#111" stroke-width="0.35" >Anti-OF</text>
<line x1="432.5" y1="769.8" x2="465.2" y2="769.8" stroke="#000" stroke-width="2.1"/>
<circle cx="448.8" cy="769.8" r="3.75" fill="#fff" stroke="#000" stroke-width="1.9"/>
<text x="468" y="774.1" font-size="12.3" text-anchor="start" font-weight="normal" fill="#111" stroke="#111" stroke-width="0.35" >Anti-SK</text>
</svg></body></html>
